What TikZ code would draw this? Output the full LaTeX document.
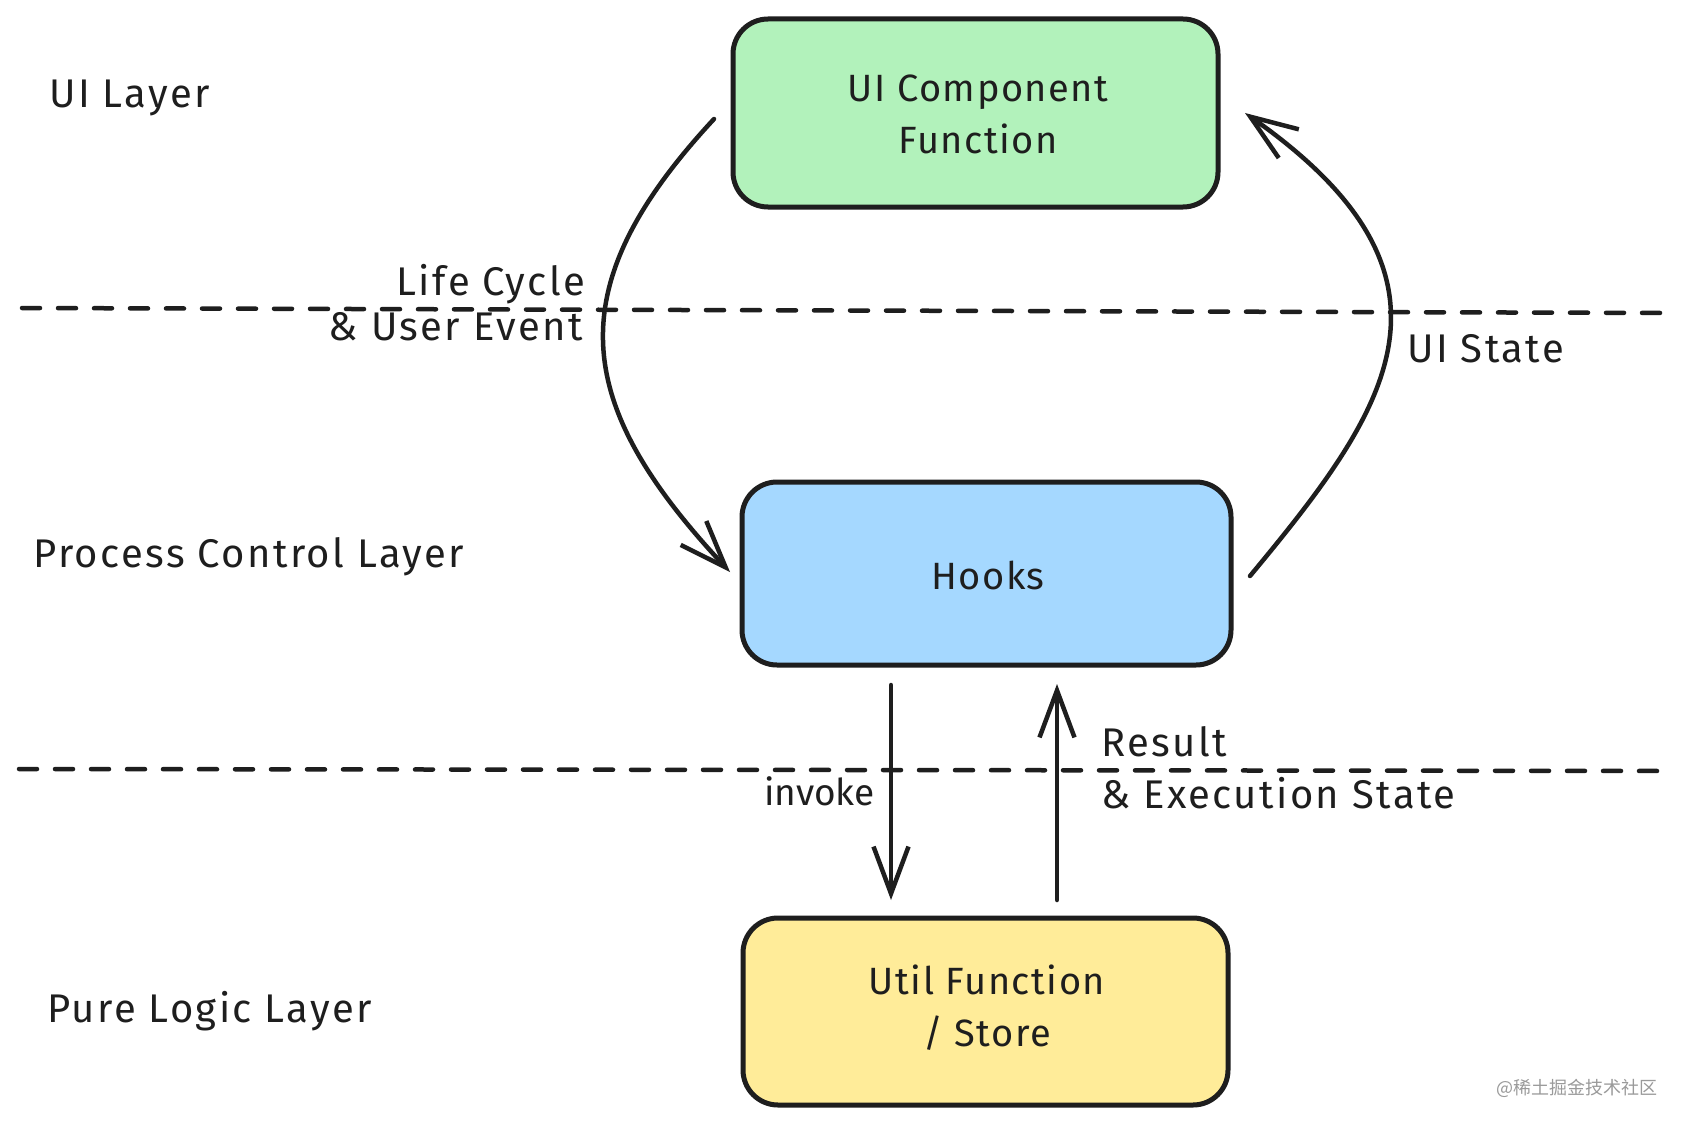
\documentclass[tikz,border=0pt]{standalone}
\usepackage{fontspec}
\setmainfont{Fira Sans}
\newfontfamily\cjkfont{Noto Sans CJK SC}
\usetikzlibrary{arrows.meta}
\definecolor{ink}{HTML}{1E1E1E}
\definecolor{uigreen}{HTML}{B2F2BB}
\definecolor{hookblue}{HTML}{A5D8FF}
\definecolor{utilyellow}{HTML}{FFEC99}
\definecolor{wmgray}{HTML}{9A9A9A}
\tikzset{
  box/.style={draw=ink, line width=5pt, rounded corners=35pt, inner sep=0pt},
  boxtext/.style={align=center, text=ink, font=\fontsize{38}{52}\selectfont\addfontfeature{LetterSpace=4}, inner sep=0pt},
  lbl/.style={text=ink, font=\fontsize{40}{48}\selectfont\addfontfeature{LetterSpace=6}, inner sep=0pt},
  arr/.style={draw=ink, line width=4.5pt, line cap=round, line join=round,
    -{Straight Barb[length=47pt, width=35pt, line width=4.5pt]}},
  divider/.style={draw=ink, line width=4.5pt, line cap=round, dash pattern=on 18pt off 18pt}
}
\begin{document}
\begin{tikzpicture}[x=1pt, y=-1pt]
\useasboundingbox (0,0) rectangle (1688,1126);
\fill[white] (0,0) rectangle (1688,1126);

% dividers
\coordinate (d1a) at (22,308);
\coordinate (d1b) at (1672,313);
\coordinate (d2a) at (19,769);
\coordinate (d2b) at (1666,771);
\draw[divider] (d1a) -- (d1b);
\draw[divider] (d2a) -- (d2b);

% boxes
\node[box, fill=uigreen, minimum width=485pt, minimum height=188pt] (ui) at (975.5,113) {};
\node[box, fill=hookblue, minimum width=489pt, minimum height=183pt] (hooks) at (986.5,573.5) {};
\node[box, fill=utilyellow, minimum width=485pt, minimum height=187pt] (util) at (985.5,1011.5) {};

\node[boxtext] (uit) at (978,114) {UI Component\\Function};
\node[boxtext] (hookst) at (988,575) {Hooks};
\node[boxtext] (utilt) at (987,1008) {Util Function\\/ Store};

% layer labels
\node[lbl, anchor=base west] (l1) at (49,108) {UI Layer};
\node[lbl, anchor=base west] (l2) at (33,567) {Process Control Layer};
\node[lbl, anchor=base west] (l3) at (47,1022) {Pure Logic Layer};

% connectors
\coordinate (la) at (714,119);
\coordinate (lb) at (730,572);
\draw[arr] (la) .. controls (557,288) and (572,403) .. (lb);
\coordinate (ra) at (1250,576);
\coordinate (rb) at (1245,113);
\draw[arr] (ra) .. controls (1387,411) and (1482,279) .. (rb);
\coordinate (ia) at (891,685);
\coordinate (ib) at (891,900);
\draw[arr] (ia) -- (ib);
\coordinate (ra2) at (1057,900);
\coordinate (rb2) at (1057,684);
\draw[arr] (ra2) -- (rb2);

% connector labels
\node[lbl, anchor=base east] (lc1) at (585,295) {Life Cycle};
\node[lbl, anchor=base east] (lc2) at (583,340) {\& User Event};
\node[lbl, anchor=base west] (uis) at (1407,362) {UI State};
\node[lbl, anchor=base west, font=\fontsize{37}{44}\selectfont] (inv) at (764,805) {invoke};
\node[lbl, anchor=base west] (res1) at (1101,756) {Result};
\node[lbl, anchor=base west] (res2) at (1101,808) {\& Execution State};

% watermark
\node[anchor=base east, inner sep=0pt, text=wmgray, font=\cjkfont\fontsize{18}{20}\selectfont] (wm) at (1658,1094) {@稀土掘金技术社区};
\end{tikzpicture}
\end{document}
